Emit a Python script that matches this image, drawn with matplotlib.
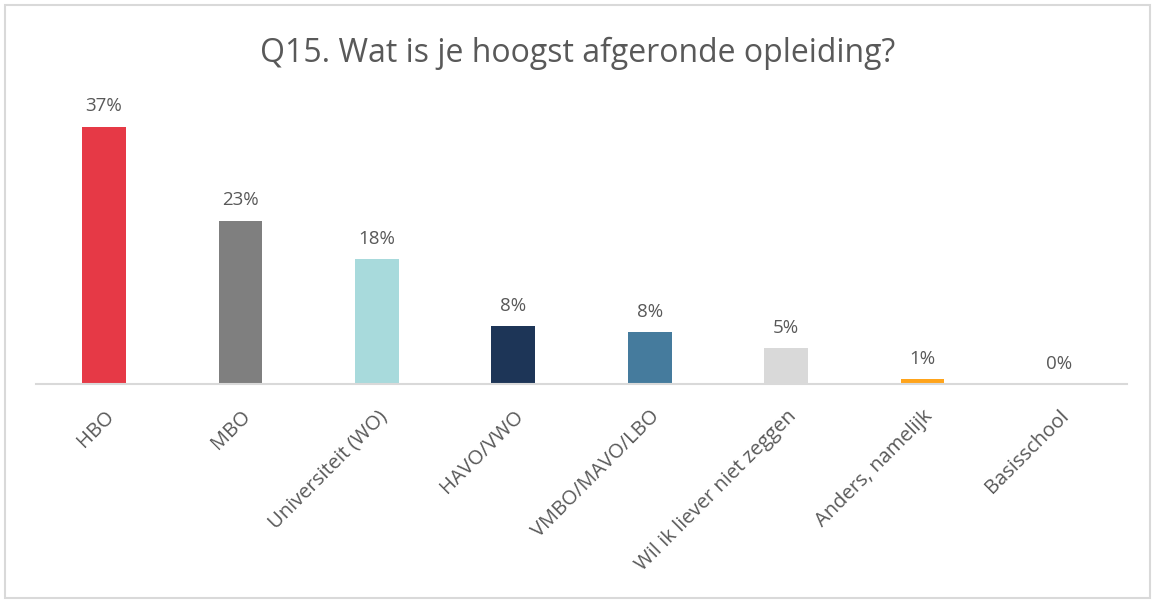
import matplotlib.pyplot as plt
from matplotlib.patches import Rectangle

categories = ["HBO", "MBO", "Universiteit (WO)", "HAVO/VWO", "VMBO/MAVO/LBO",
              "Wil ik liever niet zeggen", "Anders, namelijk", "Basisschool"]
values = [37.0, 23.5, 18.0, 8.3, 7.5, 5.2, 0.7, 0.0]
value_labels = ["37%", "23%", "18%", "8%", "8%", "5%", "1%", "0%"]
colors = ["#E63946", "#7F7F7F", "#A8DADC", "#1D3557", "#457B9D",
          "#D9D9D9", "#FFA41B", "#D9D9D9"]

plt.rcParams['font.family'] = ['Open Sans', 'DejaVu Sans']

fig = plt.figure(figsize=(11.55, 6.02), dpi=100)
ax = fig.add_axes([0.031, 0.362, 0.945, 0.474])

x = range(len(categories))
ax.bar(x, values, width=0.32, color=colors, zorder=2)
for i, v in enumerate(values):
    ax.text(i, v + 1.6, value_labels[i], ha="center", va="bottom",
            fontsize=13.5, color="#595959")

ax.set_xlim(-0.5, len(categories) - 0.5)
ax.set_ylim(0, 41)
ax.set_yticks([])
ax.set_xticks(list(x))
ax.set_xticklabels(categories, rotation=45, ha="right", rotation_mode="anchor",
                   fontsize=14.5, color="#595959")
ax.tick_params(axis="x", length=0, pad=16)
for side in ["top", "right", "left"]:
    ax.spines[side].set_visible(False)
ax.spines["bottom"].set_color("#D9D9D9")
ax.spines["bottom"].set_linewidth(1.5)

fig.text(0.5, 0.912, "Q15. Wat is je hoogst afgeronde opleiding?",
         ha="center", va="center", fontsize=23, color="#595959")

# light frame around the whole chart
fig.patches.append(Rectangle((0.004, 0.006), 0.992, 0.985, transform=fig.transFigure,
                             fill=False, edgecolor="#D9D9D9", linewidth=1.5))

fig.savefig("out.png", dpi=100)
